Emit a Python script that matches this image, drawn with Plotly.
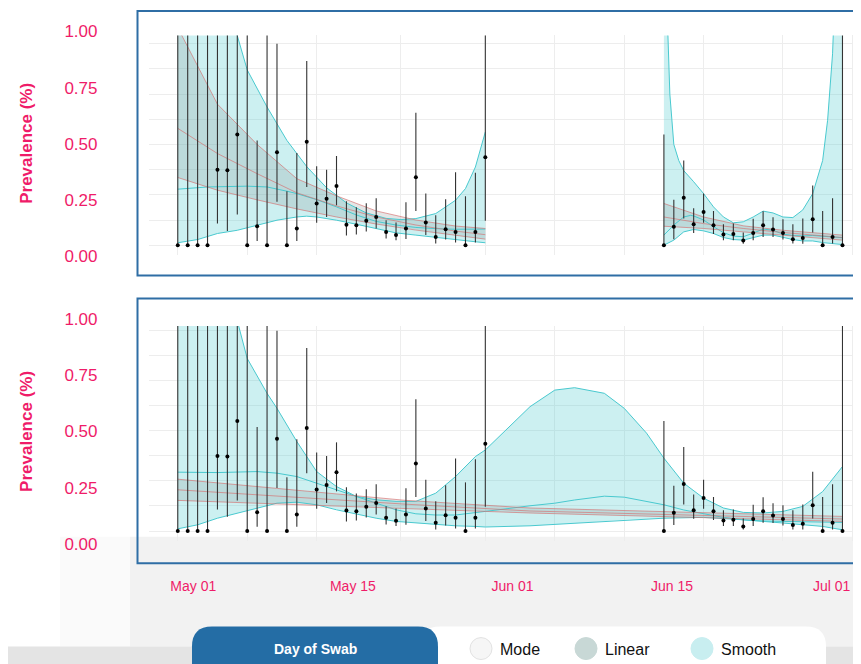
import plotly.graph_objects as go
import pandas as pd

PAGE_W, PAGE_H = 861, 664
OFF = 8  # default page margin around the figure
W, H = PAGE_W - OFF, PAGE_H - OFF
# empirical vertical calibration of the photographed page
Y_SHIFT, Y_SCALE = 6.66, 0.9786
BASE = pd.Timestamp("2020-05-01")

# ---------------- observed daily prevalence (day offset from May 01) ----------------
obs_day = list(range(0, 32)) + list(range(49, 68))
obs_prev = [0, 0, 0, 0, 0.375, 0.372, 0.549, 0, 0.094, 0, 0.461, 0, 0.083, 0.514, 0.207, 0.230,
            0.294, 0.102, 0.099, 0.121, 0.140, 0.066, 0.051, 0.083, 0.337, 0.112, 0.041, 0.079,
            0.066, 0, 0.066, 0.436,
            0, 0.091, 0.235, 0.104, 0.165, 0.099, 0.053, 0.056, 0.023, 0.060, 0.099, 0.078,
            0.060, 0.030, 0.036, 0.129, 0, 0.041, 0]
obs_lo = [0, 0, 0, 0, 0.107, 0.071, 0.152, 0, 0.021, 0, 0.215, 0, 0.021, 0.289, 0.111, 0.140,
          0.198, 0.048, 0.053, 0.068, 0.083, 0.033, 0.025, 0.031, 0.170, 0.050, 0.008, 0.028,
          0.013, 0, 0.013, 0.121,
          0, 0.030, 0.132, 0.061, 0.111, 0.055, 0.025, 0.025, 0.007, 0.025, 0.041, 0.040,
          0.028, 0.008, 0.007, 0.063, 0, 0.008, 0]
obs_hi = [1.1, 1.1, 1.1, 1.1, 1.1, 1.1, 1.1, 1.1, 0.520, 1.1, 1.0, 0.268, 0.458, 0.914, 0.392,
          0.375, 0.443, 0.218, 0.188, 0.208, 0.233, 0.124, 0.112, 0.213, 0.658, 0.256, 0.149,
          0.228, 0.362, 0.243, 0.359, 1.1,
          0.550, 0.226, 0.420, 0.183, 0.256, 0.170, 0.104, 0.107, 0.063, 0.131, 0.169, 0.139,
          0.129, 0.104, 0.132, 0.296, 0.170, 0.233, 1.1]

# ---------------- top panel: fits per period ----------------
lin1_day = [0, 4, 8, 12, 16, 20, 24, 28, 31]
lin1_hi = [1.08, 0.70, 0.50, 0.33, 0.245, 0.17, 0.125, 0.095, 0.083]
lin1_mid = [0.58, 0.455, 0.355, 0.26, 0.195, 0.14, 0.10, 0.07, 0.052]
lin1_lo = [0.336, 0.273, 0.225, 0.18, 0.14, 0.105, 0.075, 0.048, 0.03]
lin2_day = [49, 53, 57, 61, 67]
lin2_hi = [0.207, 0.14, 0.096, 0.074, 0.05]
lin2_mid = [0.14, 0.107, 0.083, 0.063, 0.038]
lin2_lo = [0.094, 0.083, 0.066, 0.05, 0.025]

sm1_mid_day = [0, 3, 7, 9, 11, 12, 14, 16, 18, 20, 22, 24, 26, 28, 31]
sm1_mid = [0.278, 0.289, 0.293, 0.289, 0.268, 0.256, 0.226, 0.19, 0.15, 0.118, 0.10, 0.088,
           0.082, 0.079, 0.08]
sm1_hi_day = [0, 2, 4, 5, 6, 7, 9, 11, 13, 15, 17, 19, 21, 22.5, 24, 26, 28, 29, 30, 31]
sm1_hi = [3.2, 2.2, 1.5, 1.25, 1.04, 0.87, 0.686, 0.52, 0.39, 0.285, 0.21, 0.16, 0.133, 0.127,
          0.132, 0.157, 0.223, 0.281, 0.388, 0.562]
sm1_lo_day = [0, 2, 4, 6, 8, 10, 12, 13, 14, 16, 18, 20, 22, 24, 26, 28, 30, 31]
sm1_lo = [0.012, 0.028, 0.058, 0.074, 0.099, 0.124, 0.14, 0.144, 0.14, 0.124, 0.104, 0.083,
          0.061, 0.05, 0.038, 0.028, 0.017, 0.012]
sm2_mid_day = [49, 50, 51, 51.7, 52, 53, 54, 55, 56, 57, 58, 59, 60, 61, 62, 63, 64, 65, 66, 67]
sm2_mid = [0.05, 0.10, 0.14, 0.148, 0.145, 0.125, 0.092, 0.062, 0.045, 0.042, 0.06, 0.08,
           0.074, 0.055, 0.048, 0.046, 0.048, 0.045, 0.041, 0.037]
sm2_hi_day = [49, 49.3, 49.6, 50, 50.5, 51, 52, 53, 54, 55, 56, 57, 58, 59, 60, 61, 62, 63, 64,
              65, 65.5, 66, 66.5, 67]
sm2_hi = [3.0, 1.2, 0.75, 0.5, 0.42, 0.37, 0.315, 0.256, 0.19, 0.14, 0.111, 0.116, 0.14, 0.169,
          0.16, 0.14, 0.137, 0.175, 0.256, 0.42, 0.62, 0.95, 1.6, 3.0]
sm2_lo_day = list(range(49, 68))
sm2_lo = [0.0, 0.025, 0.066, 0.078, 0.071, 0.058, 0.038, 0.028, 0.025, 0.038, 0.05, 0.05,
          0.038, 0.028, 0.021, 0.021, 0.013, 0.008, 0.003]

# ---------------- bottom panel: fits over all days ----------------
linA_day = [0, 23, 35.5, 67]
linA_hi = [0.259, 0.153, 0.115, 0.073]
linA_mid = [0.206, 0.134, 0.10, 0.06]
linA_lo = [0.153, 0.114, 0.09, 0.048]

smA_mid_day = [0, 4, 8, 10, 12, 14, 16, 18, 20, 22, 24, 26, 28, 30, 31, 35.5, 38, 40, 43, 45,
               47, 49, 51, 53, 55, 57, 59, 61, 63, 65, 67]
smA_mid = [0.294, 0.292, 0.297, 0.289, 0.272, 0.239, 0.206, 0.173, 0.14, 0.106, 0.086, 0.08,
           0.08, 0.09, 0.098, 0.126, 0.139, 0.155, 0.174, 0.169, 0.15, 0.131, 0.105, 0.086,
           0.068, 0.056, 0.05, 0.048, 0.046, 0.045, 0.043]
smA_hi_day = [0, 3, 5, 6, 7, 9, 10, 12, 14, 16, 18, 20, 22, 24, 26, 28, 30, 31, 35.5, 38, 40,
              43, 45, 47.25, 49, 51, 53, 55, 57, 59, 61, 63, 65, 67]
smA_hi = [3.0, 1.9, 1.35, 1.05, 0.862, 0.688, 0.613, 0.447, 0.297, 0.222, 0.173, 0.156, 0.148,
          0.148, 0.189, 0.272, 0.372, 0.405, 0.621, 0.704, 0.716, 0.688, 0.613, 0.489, 0.364,
          0.239, 0.164, 0.115, 0.093, 0.09, 0.098, 0.123, 0.197, 0.322]
smA_lo_day = [0, 2, 4, 6, 8, 10, 12, 14, 16, 18, 20, 22, 24, 26, 28, 30, 31, 35.5, 40.5, 45,
              49, 53, 57, 61, 65, 67]
smA_lo = [0.011, 0.031, 0.064, 0.089, 0.114, 0.139, 0.144, 0.131, 0.106, 0.086, 0.064, 0.048,
          0.04, 0.031, 0.026, 0.023, 0.02, 0.026, 0.04, 0.056, 0.064, 0.068, 0.056, 0.04,
          0.023, 0.006]

# ---------------- axis / legend text ----------------
y_tick_vals = [0, 0.25, 0.5, 0.75, 1.0]
y_tick_text = ["0.00", "0.25", "0.50", "0.75", "1.00"]
x_tick_text = ["May 01", "May 15", "Jun 01", "Jun 15", "Jul 01"]
grid_days = [0, 7, 14, 22.5, 31, 38, 45, 53, 61, 68]
y_grid = [i * 0.125 for i in range(9)]
y_title = "Prevalence (%)"
legend_button = "Day of Swab"
legend_items = ["Mode<br>l", "Linear", "Smooth"]

PINK = "#ef1c69"
CYAN_LINE = "#49c9cf"
CYAN_FILL = "rgba(72,200,206,0.28)"
GREY_FILL = "rgba(130,140,140,0.22)"
RED_LINE = "rgba(214,110,110,0.65)"
BOX = "#2f6ea5"
FONT = "Liberation Sans, Arial, sans-serif"


def dates(days):
    return [BASE + pd.Timedelta(days=d) for d in days]


def px(x):  # target picture pixel -> paper fraction
    return (x - OFF) / W


def py(y):
    page_y = (y - Y_SHIFT) / Y_SCALE
    return 1 - (page_y - OFF) / H


fig = go.Figure()


def ribbon(xa, ya, day_hi, hi, day_lo, lo, fill):
    fig.add_trace(go.Scatter(
        x=dates(day_hi) + dates(day_lo[::-1]), y=hi + lo[::-1],
        fill="toself", fillcolor=fill, mode="lines", line=dict(width=0),
        hoverinfo="skip", showlegend=False, xaxis=xa, yaxis=ya))


def curve(xa, ya, days, vals, color):
    fig.add_trace(go.Scatter(
        x=dates(days), y=vals, mode="lines", line=dict(color=color, width=1),
        hoverinfo="skip", showlegend=False, xaxis=xa, yaxis=ya))


def panel(xa, ya, smooths, linears):
    for s in smooths:
        ribbon(xa, ya, s[2], s[3], s[4], s[5], CYAN_FILL)
    for l in linears:
        ribbon(xa, ya, l[0], l[1], l[0], l[3], GREY_FILL)
    for s in smooths:
        curve(xa, ya, s[2], s[3], CYAN_LINE)
        curve(xa, ya, s[4], s[5], CYAN_LINE)
        curve(xa, ya, s[0], s[1], CYAN_LINE)
    for l in linears:
        curve(xa, ya, l[0], l[1], RED_LINE)
        curve(xa, ya, l[0], l[2], RED_LINE)
        curve(xa, ya, l[0], l[3], RED_LINE)
    fig.add_trace(go.Scatter(
        x=dates(obs_day), y=obs_prev, mode="markers",
        marker=dict(color="black", size=4),
        error_y=dict(type="data", symmetric=False,
                     array=[h - p for h, p in zip(obs_hi, obs_prev)],
                     arrayminus=[p - l for p, l in zip(obs_prev, obs_lo)],
                     width=0, color="#333333", thickness=1.1),
        hoverinfo="skip", showlegend=False, xaxis=xa, yaxis=ya))


panel("x", "y",
      [(sm1_mid_day, sm1_mid, sm1_hi_day, sm1_hi, sm1_lo_day, sm1_lo),
       (sm2_mid_day, sm2_mid, sm2_hi_day, sm2_hi, sm2_lo_day, sm2_lo)],
      [(lin1_day, lin1_hi, lin1_mid, lin1_lo), (lin2_day, lin2_hi, lin2_mid, lin2_lo)])
panel("x2", "y2",
      [(smA_mid_day, smA_mid, smA_hi_day, smA_hi, smA_lo_day, smA_lo)],
      [(linA_day, linA_hi, linA_mid, linA_lo)])

# invisible anchors for the label axes
for xa, ya in [("x3", "y3"), ("x4", "y4"), ("x5", "y5")]:
    fig.add_trace(go.Scatter(x=[0.5], y=[0.5], mode="markers", marker=dict(opacity=0),
                             hoverinfo="skip", showlegend=False, xaxis=xa, yaxis=ya))

x_left = -2.9
x_right = -2.9 + (PAGE_W - 149) / 9.921
x_range = [BASE + pd.Timedelta(days=x_left), BASE + pd.Timedelta(days=x_right)]
data_x = dict(type="date", range=x_range, domain=[px(149), 1], tickvals=dates(grid_days),
              showticklabels=False, ticks="", showgrid=True, gridcolor="#ededed", gridwidth=1,
              zeroline=False, showline=False)
data_y = dict(tickvals=y_grid, showticklabels=False, ticks="", showgrid=True,
              gridcolor="#ededed", gridwidth=1, zeroline=False, showline=False)
lab_y = dict(range=[-0.01, 1.01], tickvals=y_tick_vals, ticktext=y_tick_text,
             tickfont=dict(family=FONT, size=17, color=PINK), showgrid=False, zeroline=False,
             showline=False, ticks="")
hid = dict(visible=False, range=[0, 1])
x5_left = (149 - 193.3) / 159.6
x5_right = (PAGE_W - 193.3) / 159.6

fig.update_layout(
    width=W, height=H, margin=dict(l=0, r=0, t=0, b=0),
    paper_bgcolor="white", plot_bgcolor="rgba(0,0,0,0)",
    xaxis=dict(data_x, anchor="y"),
    yaxis=dict(data_y, anchor="x", range=[-0.05, 1.041], domain=[py(255.1), py(35)]),
    xaxis2=dict(data_x, anchor="y2"),
    yaxis2=dict(data_y, anchor="x2", range=[-0.05, 1.024], domain=[py(541.3), py(326)]),
    xaxis3=dict(hid, anchor="y3", domain=[px(98.5), px(100)]),
    yaxis3=dict(lab_y, anchor="x3", domain=[py(258.25), py(28.75)]),
    xaxis4=dict(hid, anchor="y4", domain=[px(98.5), px(100)]),
    yaxis4=dict(lab_y, anchor="x4", domain=[py(546.25), py(316.75)]),
    xaxis5=dict(anchor="y5", domain=[px(149), 1], range=[x5_left, x5_right],
                tickvals=list(range(len(x_tick_text))), ticktext=x_tick_text,
                tickfont=dict(family=FONT, size=14, color=PINK), showgrid=False,
                zeroline=False, showline=False, ticks=""),
    yaxis5=dict(hid, anchor="x5", domain=[py(576.5), py(572.5)]),
    showlegend=False,
)

shapes = []
# page background shading
shapes.append(dict(type="rect", xref="paper", yref="paper", x0=px(60), x1=px(130),
                   y0=py(647), y1=py(537), fillcolor="#fafafa", line=dict(width=0),
                   layer="below"))
shapes.append(dict(type="rect", xref="paper", yref="paper", x0=px(130), x1=px(900),
                   y0=py(647), y1=py(537), fillcolor="#f2f2f2", line=dict(width=0),
                   layer="below"))
shapes.append(dict(type="rect", xref="paper", yref="paper", x0=px(0), x1=px(900),
                   y0=py(720), y1=py(647), fillcolor="#e4e4e4", line=dict(width=0),
                   layer="below"))
# panel boxes
for top, bot in [(10.5, 275.5), (298.5, 563.5)]:
    shapes.append(dict(type="rect", xref="paper", yref="paper", x0=px(137.5), x1=px(900),
                       y0=py(bot), y1=py(top), line=dict(color=BOX, width=2),
                       fillcolor="rgba(0,0,0,0)", layer="above"))


def rrect(x0, y0, x1, y1, r):
    pts = [("M", [(x0 + r, y0)]), ("L", [(x1 - r, y0)]), ("Q", [(x1, y0), (x1, y0 + r)]),
           ("L", [(x1, y1 - r)]), ("Q", [(x1, y1), (x1 - r, y1)]), ("L", [(x0 + r, y1)]),
           ("Q", [(x0, y1), (x0, y1 - r)]), ("L", [(x0, y0 + r)]),
           ("Q", [(x0, y0), (x0 + r, y0)])]
    s = ""
    for cmd, p in pts:
        s += cmd + " " + " ".join(f"{px(a):.5f},{py(b):.5f}" for a, b in p) + " "
    return s + "Z"


shapes.append(dict(type="path", xref="paper", yref="paper", path=rrect(420, 627, 826, 710, 20),
                   fillcolor="white", line=dict(width=0), layer="above"))
shapes.append(dict(type="path", xref="paper", yref="paper", path=rrect(192, 627, 438, 710, 20),
                   fillcolor="#246da5", line=dict(width=0), layer="above"))
circle_cx = [481, 586, 702]
circle_fill = ["#f6f6f6", "#c8d8d6", "#c8eef0"]
circle_line = ["#e2e2e2", "#c8d8d6", "#c8eef0"]
for cx, fc, lc in zip(circle_cx, circle_fill, circle_line):
    shapes.append(dict(type="circle", xref="paper", yref="paper", x0=px(cx - 11),
                       x1=px(cx + 11), y0=py(660), y1=py(638), fillcolor=fc,
                       line=dict(color=lc, width=1), layer="above"))
fig.update_layout(shapes=shapes)

ann = []
for yc in [143.5, 432]:
    ann.append(dict(text=y_title, xref="paper", yref="paper", x=px(27), y=py(yc),
                    xanchor="center", yanchor="middle", textangle=-90, showarrow=False,
                    font=dict(family=FONT, size=17, color=PINK, weight="bold")))
ann.append(dict(text=legend_button, xref="paper", yref="paper", x=px(315), y=py(649.5),
                xanchor="center", yanchor="middle", showarrow=False,
                font=dict(family=FONT, size=14, color="white", weight="bold")))
for cx, t in zip(circle_cx, legend_items):
    ann.append(dict(text=t, xref="paper", yref="paper", x=px(cx + 17), y=py(639),
                    xanchor="left", yanchor="top", align="left", showarrow=False,
                    font=dict(family=FONT, size=16, color="#111111")))
fig.update_layout(annotations=ann)

fig.write_html("out.html", config={"displayModeBar": False})
